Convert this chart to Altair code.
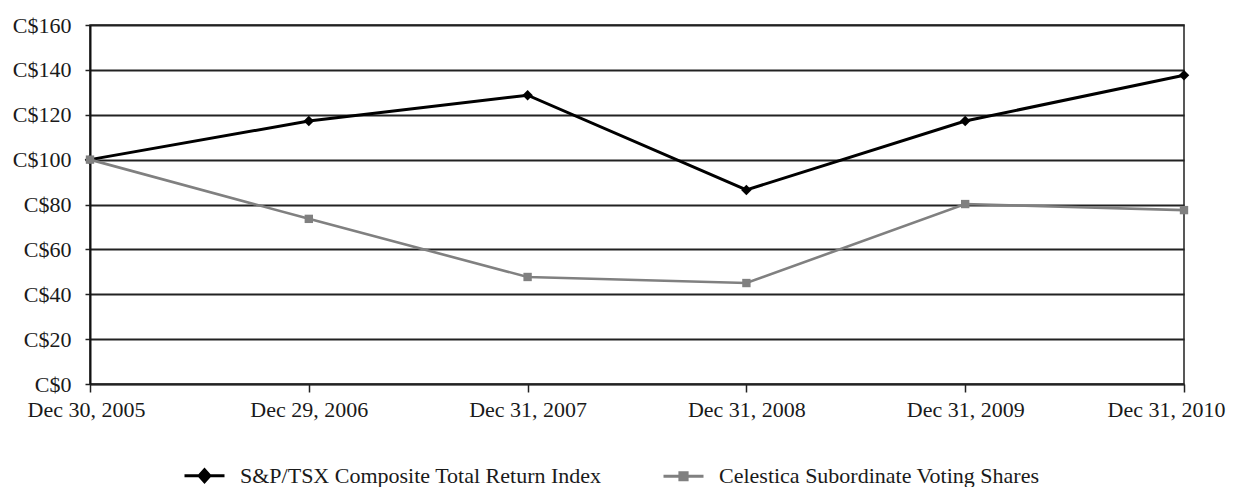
import altair as alt
import pandas as pd

dates = ["Dec 30, 2005", "Dec 29, 2006", "Dec 31, 2007", "Dec 31, 2008", "Dec 31, 2009", "Dec 31, 2010"]
sp_tsx = [100.0, 117.2, 128.7, 86.5, 117.2, 137.6]
celestica = [100.0, 73.6, 47.7, 45.0, 80.2, 77.5]
series_names = ["S&P/TSX Composite Total Return Index", "Celestica Subordinate Voting Shares"]
y_ticks = [0, 20, 40, 60, 80, 100, 120, 140, 160]

rows = []
for d, a, b in zip(dates, sp_tsx, celestica):
    rows.append({"date": d, "series": series_names[0], "value": a})
    rows.append({"date": d, "series": series_names[1], "value": b})
df = pd.DataFrame(rows)

FONT = "Liberation Serif"
TXT = "#1a1a1a"
colors = ["#000000", "#808080"]

x_enc = alt.X(
    "date:N",
    sort=dates,
    scale=alt.Scale(type="point", padding=0),
    axis=alt.Axis(
        title=None, labelAngle=0, grid=False, tickSize=8, tickColor="#222",
        tickWidth=1.5, domainColor="#222", domainWidth=1.5, labelPadding=7,
        labelFont=FONT, labelFontSize=22, labelColor=TXT, labelLimit=0,
        labelOffset=alt.expr("datum.index == 1 ? -18 : (datum.index == 0 ? -4 : 0)"),
    ),
)
y_enc = alt.Y(
    "value:Q",
    scale=alt.Scale(domain=[0, 160], nice=False),
    axis=alt.Axis(
        title=None, values=y_ticks, grid=True, gridColor="#222", gridWidth=1.8,
        tickSize=5, tickColor="#222", tickWidth=1.5, domainColor="#111", domainWidth=2,
        labelPadding=14, labelFont=FONT, labelFontSize=22, labelColor=TXT,
        labelExpr="'C$' + datum.value",
    ),
)

layers = []
shapes = ["diamond", "square"]
sizes = [110, 70]
widths = [3, 2.6]
for name, col, shp, sz, w in zip(series_names, colors, shapes, sizes, widths):
    sub = alt.Chart(df).transform_filter(alt.datum.series == name)
    layers.append(sub.mark_line(color=col, strokeWidth=w).encode(x=x_enc, y=y_enc))
    layers.append(sub.mark_point(color=col, filled=True, shape=shp, size=sz, opacity=1).encode(x=x_enc, y=y_enc))

legend_paths = [
    "M-1,0H1M-0.27,0L0,-0.3L0.27,0L0,0.3Z",
    "M-1,0H1M-0.18,-0.18H0.18V0.18H-0.18Z",
]
leg = alt.Legend(
    title=None, orient="none", legendX=93, legendY=429, direction="horizontal",
    symbolSize=1600, symbolStrokeWidth=3, labelOffset=14, columnPadding=55,
    labelFont=FONT, labelFontSize=22, labelColor=TXT, padding=0, labelLimit=0,
)
legend_layer = alt.Chart(df).transform_filter("false").mark_point(filled=True, opacity=1).encode(
    x=x_enc, y=y_enc,
    color=alt.Color("series:N", scale=alt.Scale(domain=series_names, range=colors), legend=leg),
    stroke=alt.Stroke("series:N", scale=alt.Scale(domain=series_names, range=colors), legend=leg),
    shape=alt.Shape("series:N", scale=alt.Scale(domain=series_names, range=legend_paths), legend=leg),
)
layers.append(legend_layer)

chart = alt.layer(*layers).properties(
    width=1094, height=359,
    autosize=alt.AutoSizeParams(type="none"),
    padding={"left": 82, "top": 17, "right": 42, "bottom": 103},
    background="white",
).configure_view(stroke="#222", strokeWidth=1.5)

chart.save("out.html", embed_options={"renderer": "svg", "actions": False})
